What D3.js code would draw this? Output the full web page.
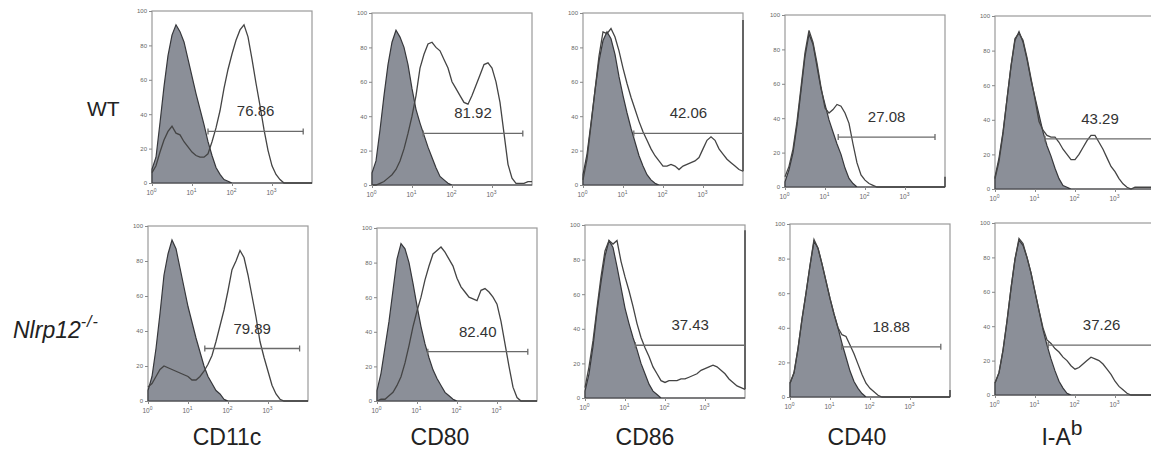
<!DOCTYPE html>
<html>
<head>
<meta charset="utf-8">
<script src="https://cdn.jsdelivr.net/npm/d3@7"></script>
<style>
  body { margin: 0; background: #fff; }
  svg { display: block; }
  text { font-family: "Liberation Sans", Arial, sans-serif; }
</style>
</head>
<body>
<svg id="fig" width="1151" height="452"></svg>
<script>
// log10 fluorescence bins (channel = 10^bin)
var bins = [0.0,0.1,0.2,0.3,0.4,0.5,0.6,0.7,0.8,0.9,1.0,1.1,1.2,1.3,1.4,1.5,1.6,1.7,1.8,1.9,
            2.0,2.1,2.2,2.3,2.4,2.5,2.6,2.7,2.8,2.9,3.0,3.1,3.2,3.3,3.4,3.5,3.6,3.7,3.8,3.9,4.0];

var markers   = ["CD11c", "CD80", "CD86", "CD40", "I-A"];
var markerSup = ["", "", "", "", "b"];
var yTicks = [0, 20, 40, 60, 80, 100];
var xTicks = [0, 1, 2, 3];   // exponents of 10

// WT row : isotype (filled) and stained (open) histograms, % of max
var wtCD11cIso   = [8,15,35,56,74,86,92,88,82,72,62,52,43,34,24,16,9,5,2,1,0,0,0,0,0,0,0,0,0,0,0,0,0,0,0,0,0,0,0,0,0];
var wtCD11cStain = [6,10,18,25,30,33,29,28,24,21,18,16,15,15,17,24,32,42,55,66,75,83,89,92,85,72,58,45,31,19,10,5,2,0,0,0,0,0,0,0,0];
var wtCD80Iso    = [7,14,32,52,70,83,90,86,80,70,56,44,36,29,22,16,10,5,3,1,0,0,0,0,0,0,0,0,0,0,0,0,0,0,0,0,0,0,0,0,0];
var wtCD80Stain  = [0,0,1,2,4,6,9,14,21,30,40,52,68,76,82,83,80,78,73,68,60,56,52,48,47,52,58,64,70,71,68,60,48,30,12,4,1,1,1,2,2];
var wtCD86Iso    = [6,18,36,55,72,84,89,85,76,63,52,42,33,25,17,11,6,3,1,0,0,0,0,0,0,0,0,0,0,0,0,0,0,0,0,0,0,0,0,0,0];
var wtCD86Stain  = [3,15,35,55,75,89,88,91,86,78,68,59,51,44,37,31,26,21,17,14,11,11,12,11,9,11,12,13,14,16,21,26,28,26,21,18,15,13,11,9,8];
var wtCD40Iso    = [3,10,20,36,56,76,89,83,70,57,48,39,32,25,19,11,5,2,0,0,0,0,0,0,0,0,0,0,0,0,0,0,0,0,0,0,0,0,0,0,0];
var wtCD40Stain  = [6,12,22,38,58,78,91,84,72,58,46,43,45,48,47,43,37,25,14,7,4,2,1,0,0,0,0,0,0,0,0,0,0,0,0,0,0,0,0,0,0];
var wtIAbIso     = [7,18,33,52,71,86,91,85,75,63,53,43,33,25,19,12,6,2,1,0,0,0,0,0,0,0,0,0,0,0,0,0,0,0,0,0,0,0,0,0,0];
var wtIAbStain   = [6,16,32,52,71,87,90,86,76,64,52,39,34,31,30,30,27,23,20,17,17,20,24,28,31,31,27,23,18,13,10,6,3,1,0,1,1,1,1,1,1];

// Nlrp12-/- row
var koCD11cIso   = [6,14,30,50,72,84,92,87,76,65,54,45,36,28,20,14,10,6,4,1,0,0,0,0,0,0,0,0,0,0,0,0,0,0,0,0,0,0,0,0,0];
var koCD11cStain = [8,10,14,18,20,19,18,17,16,15,14,12,12,14,17,21,26,34,43,52,63,75,80,86,82,72,60,48,34,25,17,9,4,1,0,0,0,0,0,0,0];
var koCD80Iso    = [6,16,31,46,64,82,91,88,80,68,55,43,33,25,18,13,9,5,3,1,0,0,0,0,0,0,0,0,0,0,0,0,0,0,0,0,0,0,0,0,0];
var koCD80Stain  = [0,1,1,3,5,9,14,22,32,43,52,60,70,78,85,87,89,86,82,78,71,66,63,60,59,58,64,65,63,60,56,46,33,20,8,2,0,0,0,0,0];
var koCD86Iso    = [4,14,30,50,67,82,91,87,76,64,52,43,35,28,20,14,8,4,2,0,0,0,0,0,0,0,0,0,0,0,0,0,0,0,0,0,0,0,0,0,0];
var koCD86Stain  = [6,18,33,52,70,85,91,89,91,79,70,62,53,43,35,29,24,18,14,10,9,10,10,10,11,11,12,13,14,16,17,18,19,18,16,14,11,9,7,6,5];
var koCD40Iso    = [8,14,28,45,60,76,90,86,77,67,57,48,40,31,23,15,9,5,2,0,0,0,0,0,0,0,0,0,0,0,0,0,0,0,0,0,0,0,0,0,0];
var koCD40Stain  = [8,14,28,45,60,76,91,86,77,67,57,48,40,36,35,30,25,19,13,8,5,3,1,0,0,0,0,0,0,0,0,0,0,0,0,0,0,0,0,0,0];
var koIAbIso     = [7,13,26,43,62,79,90,87,80,71,60,49,38,29,21,14,8,4,1,0,0,0,0,0,0,0,0,0,0,0,0,0,0,0,0,0,0,0,0,0,0];
var koIAbStain   = [7,13,26,43,62,79,91,88,80,71,60,49,39,32,30,27,25,22,20,17,15,16,18,20,22,21,20,18,15,12,8,5,3,1,0,0,0,0,0,0,0];

// events piled up at the top of the scale (stained sample)
var wtOffscale = [0, 0, 96, 6, 0];
var koOffscale = [0, 0, 97, 4, 0];

// positive gates
var wtGatePct   = ["76.86", "81.92", "42.06", "27.08", "43.29"];
var wtGateFrom  = [1.40, 1.28, 1.27, 1.33, 1.25];
var wtGateTo    = [3.78, 3.77, 4.00, 3.75, 4.00];
var wtGateLevel = [30, 30, 30, 29, 29];
var koGatePct   = ["79.89", "82.40", "37.43", "18.88", "37.26"];
var koGateFrom  = [1.42, 1.27, 1.26, 1.29, 1.33];
var koGateTo    = [3.79, 3.77, 4.00, 3.77, 4.00];
var koGateLevel = [30, 28.5, 30.5, 29, 29];

var rows = [
  { iso: [wtCD11cIso, wtCD80Iso, wtCD86Iso, wtCD40Iso, wtIAbIso],
    stain: [wtCD11cStain, wtCD80Stain, wtCD86Stain, wtCD40Stain, wtIAbStain],
    off: wtOffscale, pct: wtGatePct, from: wtGateFrom, to: wtGateTo, level: wtGateLevel },
  { iso: [koCD11cIso, koCD80Iso, koCD86Iso, koCD40Iso, koIAbIso],
    stain: [koCD11cStain, koCD80Stain, koCD86Stain, koCD40Stain, koIAbStain],
    off: koOffscale, pct: koGatePct, from: koGateFrom, to: koGateTo, level: koGateLevel }
];

// layout of the scanned panels
var panelW = 160;
var panelLeft   = [[152, 372, 583, 785, 995], [148, 377, 585, 790, 995]];
var panelTop    = [[11, 13, 13, 15, 16], [226, 228, 225, 224, 223]];
var panelBottom = [[183, 185, 185, 187, 189], [401, 401, 398, 397, 395]];
var markerX = [227, 440, 645, 857, 1062];

var svg = d3.select("#fig");

rows.forEach(function(row, r) {
  markers.forEach(function(m, c) {
    var h = panelBottom[r][c] - panelTop[r][c];
    var g = svg.append("g")
      .attr("transform", "translate(" + panelLeft[r][c] + "," + panelTop[r][c] + ")");

    var x = d3.scaleLog().domain([1, 1e4]).range([0, panelW]);
    var y = d3.scaleLinear().domain([0, 100]).range([h, 0]);

    var iso = bins.map(function(b, i) { return [b, row.iso[c][i]]; });
    var stain = bins.map(function(b, i) { return [b, row.stain[c][i]]; });

    // frame
    g.append("rect")
      .attr("x", 0).attr("y", 0).attr("width", panelW).attr("height", h)
      .attr("fill", "#fff").attr("stroke", "#9a9a9a").attr("stroke-width", 1.2);

    // isotype, filled
    g.append("path")
      .datum(iso)
      .attr("d", d3.area()
        .x(function(d) { return x(Math.pow(10, d[0])); })
        .y0(h)
        .y1(function(d) { return y(d[1]); }))
      .attr("fill", "#8b8f98")
      .attr("stroke", "#36373b")
      .attr("stroke-width", 1.2);

    // stained, open
    g.append("path")
      .datum(stain)
      .attr("d", d3.line()
        .x(function(d) { return x(Math.pow(10, d[0])); })
        .y(function(d) { return y(d[1]); }))
      .attr("fill", "none")
      .attr("stroke", "#444")
      .attr("stroke-width", 1.3);

    if (row.off[c] > 0) {
      g.append("line")
        .attr("x1", x(1e4)).attr("x2", x(1e4))
        .attr("y1", y(row.stain[c][bins.length - 1])).attr("y2", y(row.off[c]))
        .attr("stroke", "#444").attr("stroke-width", 1.5);
    }

    // gate
    var gx1 = x(Math.pow(10, row.from[c])), gx2 = x(Math.pow(10, row.to[c]));
    var gy = y(row.level[c]);
    var gate = g.append("g").attr("stroke", "#6a6a6a").attr("stroke-width", 1.3);
    gate.append("line").attr("x1", gx1).attr("x2", gx2).attr("y1", gy).attr("y2", gy);
    gate.append("line").attr("x1", gx1).attr("x2", gx1).attr("y1", gy - 3).attr("y2", gy + 3);
    gate.append("line").attr("x1", gx2).attr("x2", gx2).attr("y1", gy - 3).attr("y2", gy + 3);
    g.append("text")
      .attr("x", (gx1 + gx2) / 2)
      .attr("y", gy - 15)
      .attr("text-anchor", "middle")
      .attr("font-size", 15)
      .attr("fill", "#333")
      .text(row.pct[c]);

    // y axis
    var ya = g.append("g")
      .call(d3.axisLeft(y).tickValues(yTicks).tickSize(3).tickPadding(2));
    ya.select(".domain").remove();
    ya.selectAll("line").attr("stroke", "#888");
    ya.selectAll("text").attr("font-size", 6).attr("fill", "#666")
      .style("font-family", "'Liberation Sans', Arial, sans-serif");

    // x axis, decades
    var xa = g.append("g")
      .attr("transform", "translate(0," + h + ")")
      .call(d3.axisBottom(x)
        .tickValues(xTicks.map(function(e) { return Math.pow(10, e); }))
        .tickSize(3).tickFormat(""));
    xa.select(".domain").remove();
    xa.selectAll("line").attr("stroke", "#888");
    xa.selectAll(".tick").each(function(d, i) {
      var t = d3.select(this).append("text")
        .attr("y", 12).attr("x", -1)
        .attr("text-anchor", "middle")
        .attr("font-size", 6.5).attr("fill", "#666");
      t.append("tspan").text("10");
      t.append("tspan").attr("dy", -3).attr("font-size", 5).text(xTicks[i]);
    });
  });
});

// row labels
svg.append("text")
  .attr("x", 87).attr("y", 116)
  .attr("font-size", 21).attr("fill", "#222")
  .text("WT");
var ko = svg.append("text")
  .attr("x", 13).attr("y", 338)
  .attr("font-size", 23).attr("font-style", "italic").attr("fill", "#222");
ko.append("tspan").text("Nlrp12");
ko.append("tspan").attr("dy", -11).attr("font-size", 16).attr("letter-spacing", 1).text("-/-");

// marker labels
markers.forEach(function(m, c) {
  var t = svg.append("text")
    .attr("x", markerX[c]).attr("y", 445)
    .attr("text-anchor", "middle")
    .attr("font-size", 23).attr("fill", "#222");
  t.append("tspan").text(m);
  if (markerSup[c]) t.append("tspan").attr("dy", -10).attr("font-size", 21).text(markerSup[c]);
});
</script>
</body>
</html>
